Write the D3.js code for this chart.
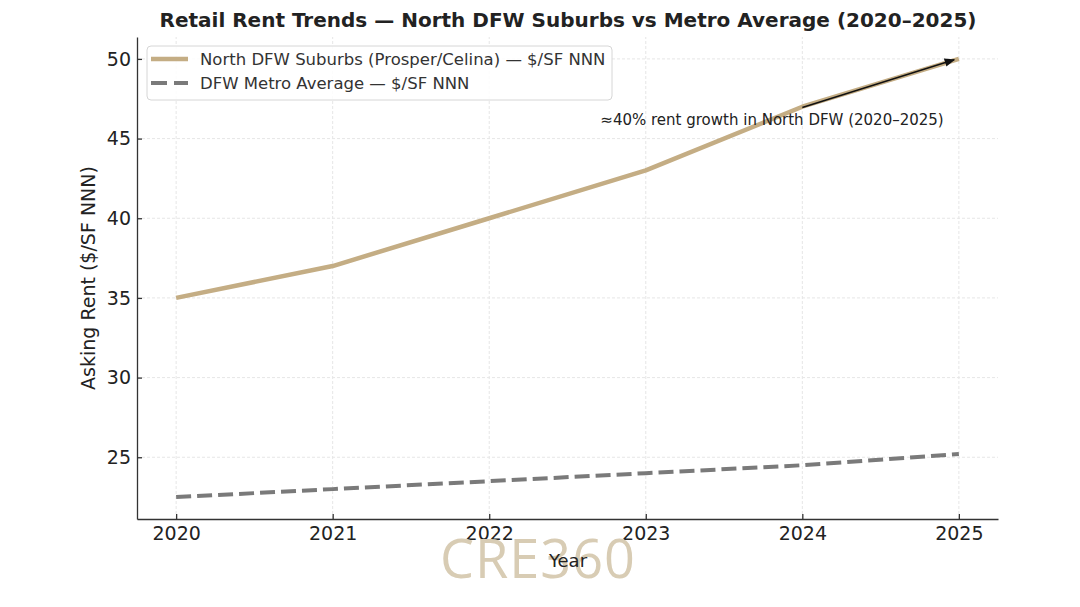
<!DOCTYPE html>
<html lang="en">
<head>
  <meta charset="UTF-8">
  <title>Retail Rent Trends</title>
  <script src="https://d3js.org/d3.v7.min.js"></script>
  <style>
    body { margin: 0; background: #fff; font-family: "DejaVu Sans", sans-serif; }
    .grid line { stroke: #e6e6e6; stroke-dasharray: 3,2; }
    .axis text { font-size: 19px; fill: #222; font-family: "DejaVu Sans", sans-serif; }
    .axis path, .axis line { stroke: #333; stroke-width: 1.3px; }
  </style>
</head>
<body>
<svg width="1080" height="607"></svg>
<script>
  // data
  const years = [2020, 2021, 2022, 2023, 2024, 2025];
  const northRent = [35, 37, 40, 43, 47, 50];
  const metroRent = [22.5, 23, 23.5, 24, 24.5, 25.2];
  const yTicks = [25, 30, 35, 40, 45, 50];
  const seriesNames = ["North DFW Suburbs (Prosper/Celina) — $/SF NNN", "DFW Metro Average — $/SF NNN"];

  const svg = d3.select("svg");
  const margin = {left: 137, right: 82, top: 37, bottom: 88};
  const W = 1080, H = 607;

  const x = d3.scaleLinear().domain([2019.75, 2025.25]).range([margin.left, W - margin.right]);
  const y = d3.scaleLinear().domain([21.125, 51.375]).range([H - margin.bottom, margin.top]);

  // grid
  const grid = svg.append("g").attr("class", "grid");
  grid.selectAll(".gx").data(years).enter().append("line")
    .attr("x1", d => x(d)).attr("x2", d => x(d))
    .attr("y1", y.range()[0]).attr("y2", y.range()[1]);
  grid.selectAll(".gy").data(yTicks).enter().append("line")
    .attr("x1", x.range()[0]).attr("x2", x.range()[1])
    .attr("y1", d => y(d)).attr("y2", d => y(d));

  // axes (left + bottom only, ticks point inward)
  const xAxis = svg.append("g").attr("class", "axis")
    .attr("transform", `translate(0,${y.range()[0]})`)
    .call(d3.axisBottom(x).tickValues(years).tickFormat(d3.format("d"))
      .tickSizeInner(-5).tickSizeOuter(0).tickPadding(8));
  const yAxis = svg.append("g").attr("class", "axis")
    .attr("transform", `translate(${x.range()[0]},0)`)
    .call(d3.axisLeft(y).tickValues(yTicks).tickSizeInner(-5).tickSizeOuter(0).tickPadding(6));

  const line = d3.line().x(d => x(d[0])).y(d => y(d[1]));

  svg.append("path")
    .datum(d3.zip(years, metroRent))
    .attr("d", line)
    .attr("fill", "none")
    .attr("stroke", "#7a7a7a")
    .attr("stroke-width", 4)
    .attr("stroke-dasharray", "15,6");

  svg.append("path")
    .datum(d3.zip(years, northRent))
    .attr("d", line)
    .attr("fill", "none")
    .attr("stroke", "#c4ad84")
    .attr("stroke-width", 4.5)
    .attr("stroke-linejoin", "round");

  // annotation arrow
  const defs = svg.append("defs");
  defs.append("marker").attr("id", "arr").attr("viewBox", "0 0 10 10")
    .attr("refX", 9).attr("refY", 5).attr("markerWidth", 7).attr("markerHeight", 7)
    .attr("orient", "auto")
    .append("path").attr("d", "M0,1L10,5L0,9z").attr("fill", "#111");
  svg.append("line")
    .attr("x1", x(2024.0)).attr("y1", y(46.95))
    .attr("x2", x(2024.97)).attr("y2", y(49.95))
    .attr("stroke", "#111").attr("stroke-width", 1.5)
    .attr("marker-end", "url(#arr)");
  svg.append("text")
    .attr("x", x(2022.71)).attr("y", y(45.85))
    .attr("font-size", 15).attr("fill", "#222")
    .text("≈40% rent growth in North DFW (2020–2025)");

  // legend
  const lg = svg.append("g").attr("transform", "translate(147,46)");
  lg.append("rect").attr("width", 465).attr("height", 54).attr("rx", 4)
    .attr("fill", "#fff").attr("fill-opacity", 0.85).attr("stroke", "#d6d6d6");
  lg.append("line").attr("x1", 4).attr("x2", 41).attr("y1", 13).attr("y2", 13)
    .attr("stroke", "#c4ad84").attr("stroke-width", 4.5);
  lg.append("line").attr("x1", 4).attr("x2", 41).attr("y1", 37).attr("y2", 37)
    .attr("stroke", "#7a7a7a").attr("stroke-width", 4).attr("stroke-dasharray", "16,7");
  lg.selectAll("text.lt").data(seriesNames).enter().append("text")
    .attr("x", 53).attr("y", (d, i) => 19 + i * 24)
    .attr("font-size", 16.5).attr("fill", "#333")
    .text(d => d);

  // title
  svg.append("text").attr("x", 568).attr("y", 27).attr("text-anchor", "middle")
    .attr("font-size", 20).attr("font-weight", "bold").attr("fill", "#222")
    .text("Retail Rent Trends — North DFW Suburbs vs Metro Average (2020–2025)");

  // watermark
  svg.append("text").attr("x", 538).attr("y", 578).attr("text-anchor", "middle")
    .attr("font-family", "'Open Sans', sans-serif")
    .attr("font-size", 54).attr("fill", "#d8ccb4").attr("letter-spacing", 1)
    .text("CRE360");

  // axis labels
  svg.append("text").attr("x", 568).attr("y", 567).attr("text-anchor", "middle")
    .attr("font-size", 18).attr("fill", "#222").text("Year");
  svg.append("text").attr("transform", `translate(95,${(y.range()[0] + y.range()[1]) / 2}) rotate(-90)`)
    .attr("text-anchor", "middle").attr("font-size", 19).attr("fill", "#222")
    .text("Asking Rent ($/SF NNN)");
</script>
</body>
</html>
